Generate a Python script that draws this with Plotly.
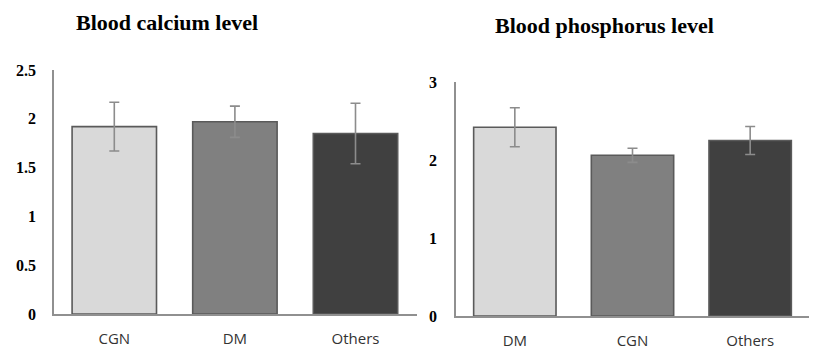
import plotly.graph_objects as go

# Data
ca_categories = ["CGN", "DM", "Others"]
ca_values = [1.92, 1.97, 1.85]
ca_errors = [0.25, 0.16, 0.31]

p_categories = ["DM", "CGN", "Others"]
p_values = [2.42, 2.06, 2.25]
p_errors = [0.25, 0.09, 0.18]

bar_colors = ["#d9d9d9", "#808080", "#404040"]
ca_ticks = [0, 0.5, 1, 1.5, 2, 2.5]
ca_ticktext = ["0", "0.5", "1", "1.5", "2", "2.5"]
p_ticks = [0, 1, 2, 3]
p_ticktext = ["0", "1", "2", "3"]

W, H = 828, 363
OX, OY = 8, 8  # page body margin offset


def px(x):
    return (x - OX) / W


def py(y):
    return (H - (y - OY)) / H


fig = go.Figure()

err_style = dict(type="data", thickness=1.6, width=5, color="#8c8c8c")

fig.add_trace(go.Bar(
    x=ca_categories, y=ca_values,
    error_y=dict(array=ca_errors, **err_style),
    marker=dict(color=bar_colors, line=dict(color="#5a5a5a", width=1.6)),
    xaxis="x", yaxis="y", showlegend=False,
))
fig.add_trace(go.Bar(
    x=p_categories, y=p_values,
    error_y=dict(array=p_errors, **err_style),
    marker=dict(color=bar_colors, line=dict(color="#5a5a5a", width=1.6)),
    xaxis="x2", yaxis="y2", showlegend=False,
))

axis_line = dict(showline=True, linecolor="#909090", linewidth=1.5,
                 showgrid=False, zeroline=False, ticks="", automargin=False)
xfont = dict(family="Open Sans, Noto Sans, sans-serif", size=15, color="#333333")
yfont = dict(family="Liberation Serif, Times New Roman, serif", size=16, color="#000000")

fig.update_layout(
    width=W, height=H,
    margin=dict(l=0, r=0, t=0, b=0),
    paper_bgcolor="white", plot_bgcolor="white",
    bargap=0.3,
    xaxis=dict(domain=[px(54), px(417)], range=[-0.5, 2.51], tickfont=xfont,
               ticklabelstandoff=10, anchor="y", **axis_line),
    yaxis=dict(domain=[py(314), py(70)], range=[0, 2.5],
               tickvals=ca_ticks, ticktext=["<b>%s</b>" % t for t in ca_ticktext],
               tickfont=yfont, ticklabelstandoff=13, anchor="x", **axis_line),
    xaxis2=dict(domain=[px(456), px(809)], range=[-0.5, 2.5], tickfont=xfont,
                ticklabelstandoff=10, anchor="y2", **axis_line),
    yaxis2=dict(domain=[py(316), py(82)], range=[0, 3],
                tickvals=p_ticks, ticktext=["<b>%s</b>" % t for t in p_ticktext],
                tickfont=yfont, ticklabelstandoff=14, anchor="x2", **axis_line),
    annotations=[
        dict(text="<b>Blood calcium level</b>", x=px(167), y=py(23),
             xref="paper", yref="paper", xanchor="center", yanchor="middle",
             showarrow=False,
             font=dict(family="Liberation Serif, Times New Roman, serif", size=22, color="#000")),
        dict(text="<b>Blood phosphorus level</b>", x=px(604), y=py(26),
             xref="paper", yref="paper", xanchor="center", yanchor="middle",
             showarrow=False,
             font=dict(family="Liberation Serif, Times New Roman, serif", size=22, color="#000")),
    ],
)

fig.write_html("out.html")
